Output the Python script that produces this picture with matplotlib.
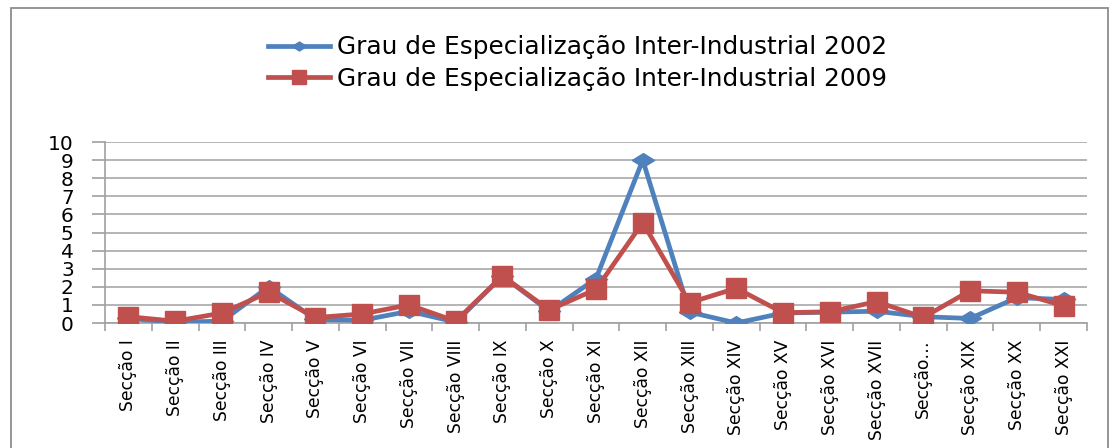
import matplotlib
matplotlib.use("Agg")
import matplotlib.pyplot as plt
from matplotlib.patches import Rectangle
from matplotlib.ticker import FixedLocator, MultipleLocator

categories = ["Secção I", "Secção II", "Secção III", "Secção IV", "Secção V", "Secção VI",
              "Secção VII", "Secção VIII", "Secção IX", "Secção X", "Secção XI", "Secção XII",
              "Secção XIII", "Secção XIV", "Secção XV", "Secção XVI", "Secção XVII", "Secção…",
              "Secção XIX", "Secção XX", "Secção XXI"]
values_2002 = [0.25, 0.05, 0.1, 2.0, 0.2, 0.15, 0.65, 0.05, 2.6, 0.65, 2.45, 9.0,
               0.6, 0.0, 0.55, 0.6, 0.65, 0.35, 0.25, 1.4, 1.3]
values_2009 = [0.35, 0.1, 0.55, 1.7, 0.3, 0.5, 1.0, 0.1, 2.6, 0.72, 1.86, 5.55,
               1.12, 1.92, 0.57, 0.62, 1.18, 0.31, 1.78, 1.7, 0.95]
label_2002 = "Grau de Especialização Inter-Industrial 2002"
label_2009 = "Grau de Especialização Inter-Industrial 2009"

W, H, DPI = 1119, 448, 100
fig = plt.figure(figsize=(W / DPI, H / DPI), dpi=DPI)
fig.patches.append(Rectangle((11 / W, 1 - 460 / H), (1108 - 11) / W, (460 - 8) / H,
                             transform=fig.transFigure, fill=False,
                             edgecolor="#8C8C8C", linewidth=1.3))

left, right, top, bottom = 105, 1087, 142, 323
ax = fig.add_axes([left / W, 1 - bottom / H, (right - left) / W, (bottom - top) / H])

wide_diamond = [(-1, 0), (0, 0.62), (1, 0), (0, -0.62), (-1, 0)]
x = list(range(len(categories)))
ax.plot(x, values_2002, color="#4F81BD", linewidth=3.4, marker=wide_diamond, markersize=16,
        label=label_2002, zorder=3)
ax.plot(x, values_2009, color="#C0504D", linewidth=3.4, marker="s", markersize=15,
        label=label_2009, zorder=4)

ax.set_xlim(-0.5, len(categories) - 0.5)
ax.set_ylim(0, 10)
ax.yaxis.set_major_locator(MultipleLocator(1))
ax.grid(axis="y", color="#A0A0A0", linewidth=1.1)
ax.set_axisbelow(True)
for s in ["top", "right"]:
    ax.spines[s].set_visible(False)
for s in ["left", "bottom"]:
    ax.spines[s].set_color("#A0A0A0")
    ax.spines[s].set_linewidth(1.2)

ax.set_xticks(x)
ax.set_xticklabels(categories, rotation=90, fontsize=12.3, va="top")
ax.tick_params(axis="x", length=0, pad=12)
ax.xaxis.set_minor_locator(FixedLocator([i - 0.5 for i in range(len(categories) + 1)]))
ax.tick_params(axis="x", which="minor", length=6, color="#A0A0A0", width=1.2)
ax.tick_params(axis="y", direction="out", length=9.5, color="#A0A0A0", width=1.2,
               labelsize=14.5, pad=13)

fig.legend(loc="center left", bbox_to_anchor=(268 / W, 1 - 63 / H), frameon=False,
           fontsize=17.8, handlelength=2.5, labelspacing=0.3, handletextpad=0.3,
           borderpad=0, borderaxespad=0, markerscale=0.65)

fig.savefig("out.png", dpi=DPI)
